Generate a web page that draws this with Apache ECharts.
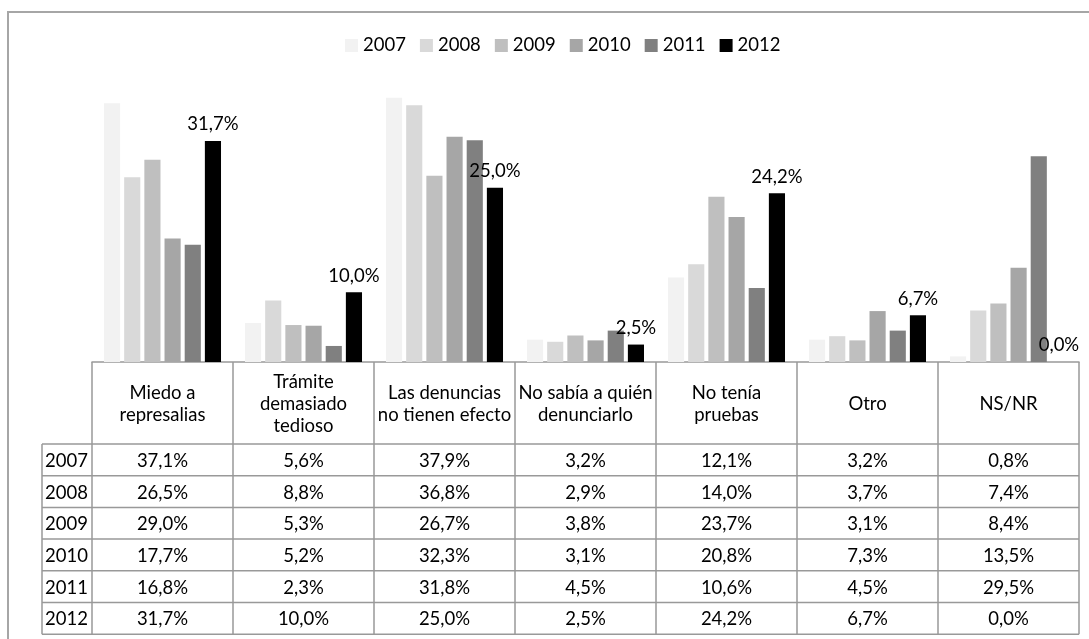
<!DOCTYPE html>
<html><head><meta charset="utf-8">
<script src="https://cdn.jsdelivr.net/npm/echarts@6/dist/echarts.min.js"></script>
<style>html,body{margin:0;padding:0;background:#fff}#c{width:1089px;height:639px}</style>
</head><body><div id="c"></div>
<script>
const categories = ['Miedo a\nrepresalias', 'Trámite\ndemasiado\ntedioso', 'Las denuncias\nno tienen efecto', 'No sabía a quién\ndenunciarlo', 'No tenía\npruebas', 'Otro', 'NS/NR'];
const years = ['2007', '2008', '2009', '2010', '2011', '2012'];
const v2007 = [37.1, 5.6, 37.9, 3.2, 12.1, 3.2, 0.8];
const v2008 = [26.5, 8.8, 36.8, 2.9, 14.0, 3.7, 7.4];
const v2009 = [29.0, 5.3, 26.7, 3.8, 23.7, 3.1, 8.4];
const v2010 = [17.7, 5.2, 32.3, 3.1, 20.8, 7.3, 13.5];
const v2011 = [16.8, 2.3, 31.8, 4.5, 10.6, 4.5, 29.5];
const v2012 = [31.7, 10.0, 25.0, 2.5, 24.2, 6.7, 0.0];
const seriesValues = [v2007, v2008, v2009, v2010, v2011, v2012];
const colors = ['#F2F2F2', '#D9D9D9', '#BFBFBF', '#A6A6A6', '#808080', '#000000'];

const FONT = 'Lato';
const FS = 18.5;
const fmt = v => v.toFixed(1).replace('.', ',') + '%';

const chart = echarts.init(document.getElementById('c'), null, {renderer: 'canvas'});
const option = {
  backgroundColor: '#ffffff',
  animation: false,
  textStyle: {fontFamily: FONT},
  legend: {
    top: 31, left: 340,
    itemWidth: 13, itemHeight: 13, itemGap: 14,
    icon: 'rect',
    textStyle: {fontFamily: FONT, fontSize: FS, color: '#000'},
    data: years
  },
  grid: {left: 92, right: 10, top: 83, bottom: 639 - 362},
  xAxis: {
    type: 'category', data: categories,
    axisLine: {lineStyle: {color: '#999', width: 1.5}},
    axisTick: {show: false},
    axisLabel: {show: false},
    splitLine: {show: false}
  },
  yAxis: {
    type: 'value', min: 0, max: 40,
    axisLine: {show: false}, axisTick: {show: false},
    axisLabel: {show: false}, splitLine: {show: false}
  },
  series: years.map((y, i) => ({
    name: y, type: 'bar',
    data: seriesValues[i],
    barGap: '25%', barCategoryGap: '17%',
    itemStyle: {color: colors[i]},
    label: {
      show: i === years.length - 1, position: 'top', distance: 7,
      fontFamily: FONT, fontSize: FS, color: '#000',
      formatter: p => fmt(p.value)
    }
  }))
};
chart.setOption(option);

// Build the data table below the axis from the chart's own scale
const baseY = chart.convertToPixel({yAxisIndex: 0}, 0);
const c0 = chart.convertToPixel({xAxisIndex: 0}, 0);
const c1 = chart.convertToPixel({xAxisIndex: 0}, 1);
const colW = c1 - c0;
const leftX = c0 - colW / 2;
const rightX = leftX + colW * categories.length;
const headerBottom = 444;
const rowH = 31.7;
const tableBottom = headerBottom + rowH * years.length;
const labelLeft = 42;
const lineStyle = {stroke: '#999', lineWidth: 1.5};
const g = [];
g.push({type: 'rect', shape: {x: 8, y: 12, width: 1200, height: 800}, style: {fill: 'none', stroke: '#a6a6a6', lineWidth: 2}, silent: true});
g.push({type: 'line', shape: {x1: labelLeft, y1: headerBottom, x2: rightX, y2: headerBottom}, style: lineStyle});
for (let r = 1; r <= years.length; r++) {
  const y = headerBottom + rowH * r;
  g.push({type: 'line', shape: {x1: labelLeft, y1: y, x2: rightX, y2: y}, style: lineStyle});
}
g.push({type: 'line', shape: {x1: labelLeft, y1: headerBottom, x2: labelLeft, y2: tableBottom}, style: lineStyle});
for (let k = 0; k <= categories.length; k++) {
  const x = leftX + colW * k;
  g.push({type: 'line', shape: {x1: x, y1: baseY, x2: x, y2: tableBottom}, style: lineStyle});
}
categories.forEach((cat, k) => {
  const cx = chart.convertToPixel({xAxisIndex: 0}, k);
  g.push({type: 'text', x: cx, y: (baseY + headerBottom) / 2 + 1,
    style: {text: cat, fontFamily: FONT, fontSize: FS, lineHeight: 22, fill: '#000', align: 'center', verticalAlign: 'middle'}});
});
years.forEach((yr, r) => {
  const cy = headerBottom + rowH * r + rowH / 2 + 1;
  g.push({type: 'text', x: labelLeft + 3, y: cy,
    style: {text: yr, fontFamily: FONT, fontSize: FS, fill: '#000', align: 'left', verticalAlign: 'middle'}});
  seriesValues[r].forEach((v, k) => {
    const cx = chart.convertToPixel({xAxisIndex: 0}, k);
    g.push({type: 'text', x: cx, y: cy,
      style: {text: fmt(v), fontFamily: FONT, fontSize: FS, fill: '#000', align: 'center', verticalAlign: 'middle'}});
  });
});
chart.setOption({graphic: {elements: g}});
</script>
</body></html>
